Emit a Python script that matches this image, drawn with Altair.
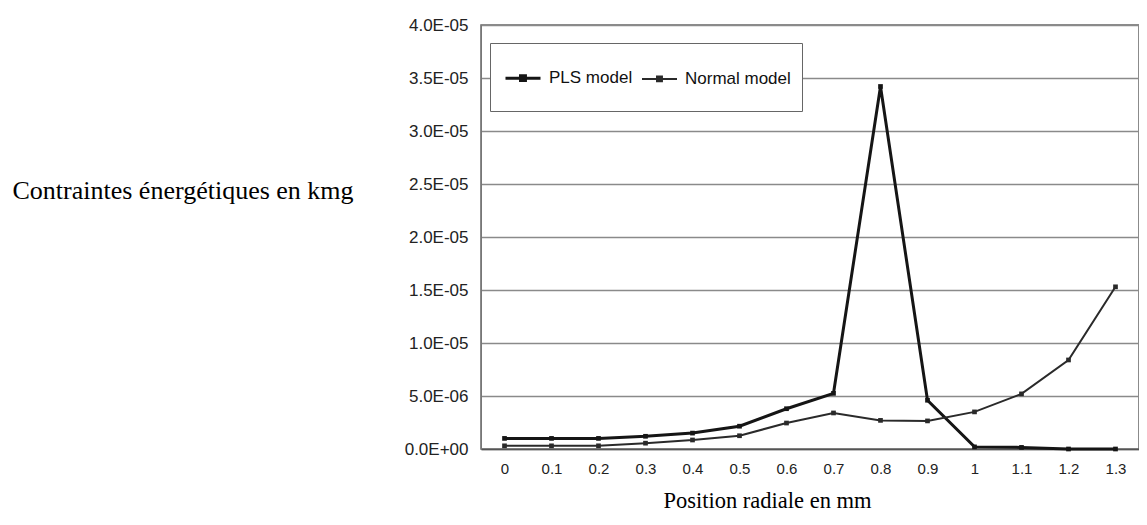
import altair as alt
import pandas as pd

positions = ["0", "0.1", "0.2", "0.3", "0.4", "0.5", "0.6", "0.7", "0.8", "0.9", "1", "1.1", "1.2", "1.3"]
pls_values = [1.0e-6, 1.0e-6, 1.0e-6, 1.2e-6, 1.5e-6, 2.15e-6, 3.8e-6, 5.25e-6, 3.42e-5, 4.6e-6, 0.2e-6, 0.15e-6, 0.0, 0.0]
normal_values = [0.3e-6, 0.3e-6, 0.3e-6, 0.55e-6, 0.85e-6, 1.25e-6, 2.45e-6, 3.4e-6, 2.7e-6, 2.65e-6, 3.5e-6, 5.2e-6, 8.4e-6, 1.53e-5]
series_names = ["PLS model", "Normal model"]
y_ticks = [0, 5e-6, 1e-5, 1.5e-5, 2e-5, 2.5e-5, 3e-5, 3.5e-5, 4e-5]

rows = []
for p, v in zip(positions, pls_values):
    rows.append({"pos": p, "val": v, "series": series_names[0]})
for p, v in zip(positions, normal_values):
    rows.append({"pos": p, "val": v, "series": series_names[1]})
df = pd.DataFrame(rows)

label_expr = ("datum.value == 0 ? '0.0E+00' : (datum.value >= 9.99e-6 ? "
              "format(datum.value*1e5, '.1f') + 'E-05' : format(datum.value*1e6, '.1f') + 'E-06')")

# legend symbol: line with a small square; the leading moves only widen its bounds
sym = ("M-1,-1M1,0.7M-0.867,0L0.689,0"
       "M-0.2,-0.11L0.02,-0.11L0.02,0.11L-0.2,0.11Z")

chart = alt.Chart(df).mark_line(
    point=alt.OverlayMarkDef(shape="square", size=22, filled=True)
).encode(
    x=alt.X("pos:N", sort=positions, scale=alt.Scale(paddingInner=0, paddingOuter=0),
            axis=alt.Axis(title="Position radiale en mm", labelAngle=0, ticks=False,
                          labelPadding=12, labelFont="Liberation Sans", labelFontSize=15,
                          labelColor="#222", domainColor="#555", domainWidth=1.5,
                          titleFont="Liberation Serif", titleFontSize=22.5, titleFontWeight="normal",
                          titleColor="black", titleAnchor="start", titleAlign="center",
                          titleX=286, titleY=51, titleBaseline="middle")),
    y=alt.Y("val:Q", scale=alt.Scale(domain=[0, 4e-5], nice=False),
            axis=alt.Axis(values=y_ticks, labelExpr=label_expr, ticks=False, labelPadding=13,
                          labelFont="Liberation Sans", labelFontSize=17, labelColor="#222",
                          gridColor="#8a8a8a", gridWidth=1.3, domainColor="#777",
                          title="Contraintes énergétiques en kmg", titleAngle=0,
                          titleAlign="left", titleBaseline="middle", titleX=-469, titleY=165,
                          titleFont="Liberation Serif", titleFontSize=26, titleFontWeight="normal",
                          titleColor="black")),
    color=alt.Color("series:N", sort=series_names,
                    scale=alt.Scale(domain=series_names, range=["#151515", "#2a2a2a"]),
                    legend=alt.Legend(title=None, orient="none", legendX=9, legendY=18,
                                      direction="horizontal", symbolType=sym, symbolSize=2025,
                                      symbolStrokeWidth=2, symbolFillColor="#151515",
                                      labelFont="Liberation Sans", labelFontSize=17,
                                      labelColor="#111", labelOffset=0, columnPadding=2,
                                      padding=11, strokeColor="#666", fillColor="white")),
    strokeWidth=alt.StrokeWidth("series:N", sort=series_names,
                                scale=alt.Scale(domain=series_names, range=[3, 2]), legend=None),
).properties(
    width=658, height=424,
    padding={"left": 4, "top": 8, "right": 0, "bottom": 0},
    background="white",
).configure_view(
    stroke="#666", strokeWidth=1.5
)

chart.save("out.html", embed_options={"renderer": "svg", "actions": False})
